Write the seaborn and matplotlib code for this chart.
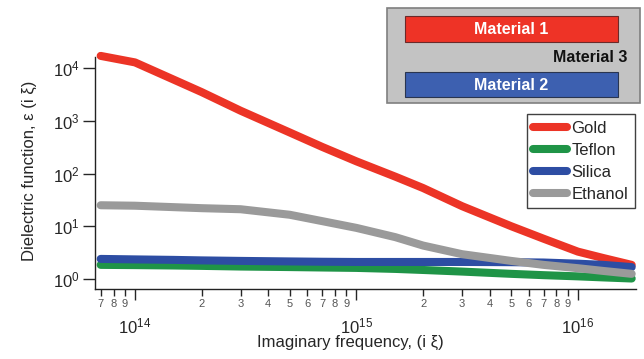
import numpy as np
import pandas as pd
import matplotlib
matplotlib.use("Agg")
import matplotlib.pyplot as plt
from matplotlib.patches import Rectangle
from matplotlib.ticker import LogLocator, FuncFormatter, NullLocator, LogFormatterMathtext
import seaborn as sns

# ---- data ----
freq = [7e13, 1e14, 1.5e14, 2e14, 3e14, 5e14, 7e14, 1e15, 1.5e15, 2e15,
        3e15, 5e15, 7e15, 1e16, 1.3e16, 1.75e16]
gold = [17000, 12800, 6000, 3500, 1550, 600, 320, 170, 87, 53,
        24, 10, 5.8, 3.3, 2.5, 1.85]
teflon = [1.85, 1.83, 1.80, 1.77, 1.72, 1.68, 1.65, 1.62, 1.55, 1.48,
          1.38, 1.25, 1.18, 1.12, 1.07, 1.02]
silica = [2.4, 2.35, 2.3, 2.25, 2.2, 2.15, 2.12, 2.1, 2.1, 2.1,
          2.1, 2.08, 2.05, 1.95, 1.85, 1.68]
ethanol = [25, 24.5, 23, 22, 21, 16.5, 12.5, 9.3, 6.2, 4.3,
           2.95, 2.2, 1.85, 1.6, 1.42, 1.25]
materials = ["Gold", "Teflon", "Silica", "Ethanol"]
colors = {"Gold": "#EC3426", "Teflon": "#1F9447", "Silica": "#2D4DA3", "Ethanol": "#9A9A9A"}

df = pd.DataFrame({
    "freq": freq * 4,
    "eps": gold + teflon + silica + ethanol,
    "material": sum([[m] * len(freq) for m in materials], []),
})

sns.set_style("ticks")
plt.rcParams["font.family"] = ["Liberation Sans", "DejaVu Sans"]
plt.rcParams["mathtext.fontset"] = "custom"
plt.rcParams["mathtext.rm"] = "Liberation Sans"
plt.rcParams["mathtext.it"] = "Liberation Sans"

fig = plt.figure(figsize=(6.44, 3.59), dpi=100)
ax = fig.add_axes([95/644, 1-289/359, (636-95)/644, (289-57)/359])

sns.lineplot(data=df, x="freq", y="eps", hue="material", hue_order=materials,
             palette=colors, estimator=None, sort=False, linewidth=5.8,
             solid_capstyle="round", solid_joinstyle="round", ax=ax, legend=False)
for ln in ax.lines:
    ln.set_clip_on(False)

ax.set_xscale("log")
ax.set_yscale("log")
ax.set_xlim(6.6e13, 1.83e16)
ax.set_ylim(0.645, 16200)

sns.despine(ax=ax)
for s in ("left", "bottom"):
    ax.spines[s].set_linewidth(1.0)
    ax.spines[s].set_color("#222222")

ax.yaxis.set_major_locator(LogLocator(base=10, numticks=10))
ax.yaxis.set_major_formatter(LogFormatterMathtext())
ax.yaxis.set_minor_locator(NullLocator())
ax.tick_params(axis="y", which="major", length=9, width=1.0, pad=2, labelsize=12)

ax.xaxis.set_major_locator(LogLocator(base=10, numticks=10))
ax.xaxis.set_major_formatter(LogFormatterMathtext())
ax.xaxis.set_minor_locator(LogLocator(base=10, subs=np.arange(2, 10), numticks=20))
ax.xaxis.set_minor_formatter(FuncFormatter(
    lambda v, p: str(int(round(v / 10 ** np.floor(np.log10(v) + 1e-9))))))
ax.tick_params(axis="x", which="major", length=8, width=1.0, pad=12, labelsize=12)
ax.tick_params(axis="x", which="minor", length=5, width=1.0, pad=2, labelsize=8,
               labelcolor="#555555")

ax.set_xlabel("Imaginary frequency, (i ξ)", fontsize=12)
ax.xaxis.set_label_coords((350-95)/541, -0.2)
ax.set_ylabel("Dielectric function, ε (i ξ)", fontsize=12)
ax.yaxis.set_label_coords(-0.108, 0.51)

leg = ax.legend(handles=ax.lines[:4], labels=materials, loc="upper right",
                bbox_to_anchor=(635/644, 1-114/359), bbox_transform=fig.transFigure,
                fontsize=12, frameon=True, fancybox=False, handlelength=2.0,
                handleheight=0.6, handletextpad=0.3, borderpad=0.4, borderaxespad=0,
                labelspacing=0.42)
leg.get_frame().set_edgecolor("#111111")
leg.get_frame().set_linewidth(1.0)
for h in leg.legend_handles:
    h.set_linewidth(5.8)
    h.set_solid_capstyle("round")

# ---- schematic inset ----
ins = fig.add_axes([0, 0, 1, 1], facecolor="none")
ins.set_xlim(0, 644)
ins.set_ylim(359, 0)
ins.axis("off")
ins.add_patch(Rectangle((387, 8), 253, 95, facecolor="#C3C3C3", edgecolor="#7F7F7F", lw=1.2))
ins.add_patch(Rectangle((405, 16), 213, 26, facecolor="#EE3326", edgecolor="#6A2A2A", lw=0.8))
ins.add_patch(Rectangle((405, 72), 213, 25, facecolor="#3D60B0", edgecolor="#2A3550", lw=0.8))
ins.text(511, 29, "Material 1", color="white", fontsize=11.5, fontweight="bold",
         ha="center", va="center")
ins.text(511, 85, "Material 2", color="white", fontsize=11.5, fontweight="bold",
         ha="center", va="center")
ins.text(627, 57, "Material 3", color="#111111", fontsize=11.5, fontweight="bold",
         ha="right", va="center")

fig.savefig("out.png", dpi=100)
